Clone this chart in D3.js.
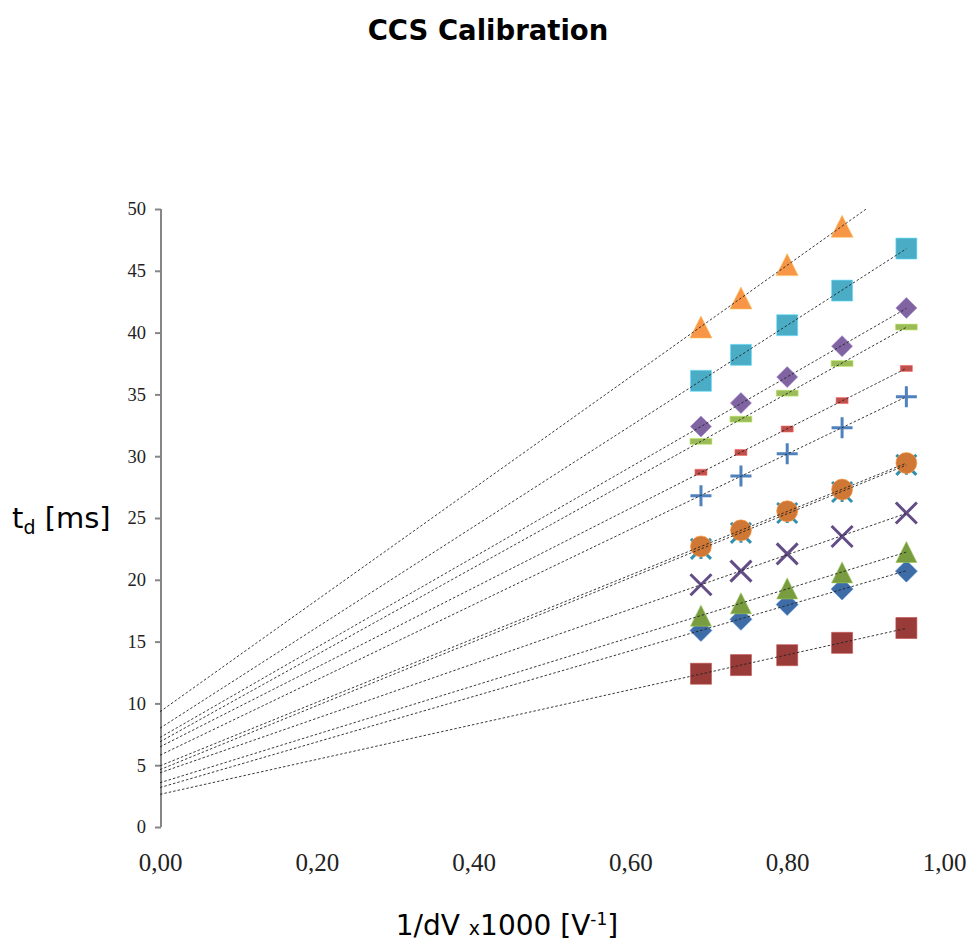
<!DOCTYPE html>
<html>
<head>
<meta charset="utf-8">
<script src="https://cdn.jsdelivr.net/npm/d3@7"></script>
<style>
  html, body { margin: 0; padding: 0; background: #fff; }
  svg { display: block; }
</style>
</head>
<body>
<svg id="chart"></svg>
<script>
// x values (1/dV x1000) shared by every series
const xValues = [0.690, 0.741, 0.800, 0.870, 0.952];

// drift times per series (ms)
const blueDiamond = [15.9, 16.8, 18.0, 19.25, 20.7];
const redSquare = [12.4, 13.1, 13.9, 14.9, 16.1];
const greenTriangle = [17.1, 18.1, 19.3, 20.6, 22.25];
const purpleCross = [19.6, 20.7, 22.1, 23.5, 25.4];
const cyanStar = [22.5, 23.8, 25.4, 27.1, 29.3];
const orangeCircle = [22.7, 24.0, 25.55, 27.3, 29.45];
const bluePlus = [26.8, 28.4, 30.2, 32.3, 34.8];
const redDash = [28.7, 30.3, 32.2, 34.5, 37.1];
const greenDash = [31.2, 33.0, 35.1, 37.5, 40.45];
const purpleDiamond = [32.4, 34.3, 36.4, 38.9, 42.0];
const cyanSquare = [36.1, 38.2, 40.6, 43.4, 46.8];
const orangeTriangle = [40.45, 42.8, 45.5, 48.6, 52.3]; // last point is above the axis max

const yTicks = [0, 5, 10, 15, 20, 25, 30, 35, 40, 45, 50];
const xTicks = [0, 0.2, 0.4, 0.6, 0.8, 1.0];

const series = [
  { values: blueDiamond, shape: "diamond", color: "#3e6ca6", size: 22 },
  { values: redSquare, shape: "square", color: "#983b39", size: 21 },
  { values: greenTriangle, shape: "triangle", color: "#799c40", size: 21 },
  { values: purpleCross, shape: "x", color: "#634d86", size: 21 },
  { values: cyanStar, shape: "star", color: "#3190ae", size: 20 },
  { values: orangeCircle, shape: "circle", color: "#cf7734", size: 21 },
  { values: bluePlus, shape: "plus", color: "#4f81bd", size: 21 },
  { values: redDash, shape: "dash", color: "#c0504d", size: 12 },
  { values: greenDash, shape: "dash", color: "#9bbb59", size: 22 },
  { values: purpleDiamond, shape: "diamond", color: "#8064a2", size: 21 },
  { values: cyanSquare, shape: "square", color: "#4bacc6", size: 21 },
  { values: orangeTriangle, shape: "triangle", color: "#f79646", size: 22 },
];

const width = 971;
const height = 944;

const svg = d3.select("#chart").attr("width", width).attr("height", height);

const x = d3.scaleLinear().domain([0, 1]).range([160, 944]);
const y = d3.scaleLinear().domain([0, 50]).range([827, 209]);

const locale = d3.formatLocale({ decimal: ",", thousands: ".", grouping: [3], currency: ["", ""] });
const fmtX = locale.format(".2f");

// Clip to the plot area so points/lines above 50 are hidden
svg
  .append("defs")
  .append("clipPath")
  .attr("id", "plot-clip")
  .append("rect")
  .attr("x", x(0))
  .attr("y", y(50))
  .attr("width", x(1) - x(0))
  .attr("height", y(0) - y(50));

// Title
svg
  .append("text")
  .attr("x", 488)
  .attr("y", 40)
  .attr("text-anchor", "middle")
  .attr("font-family", "DejaVu Sans")
  .attr("font-weight", "bold")
  .attr("font-size", "27.5px")
  .text("CCS Calibration");

// Y axis
const yAxis = svg
  .append("g")
  .attr("transform", `translate(${x(0) + 1}, 0)`)
  .call(d3.axisLeft(y).tickValues(yTicks).tickSize(6).tickPadding(9).tickFormat(d3.format("d")));

yAxis.select(".domain").attr("stroke", "#868686").attr("stroke-width", 2).attr("d", `M0,${y(50)}V${y(0)}`);
yAxis.selectAll(".tick line").attr("stroke", "#868686").attr("stroke-width", 2);
yAxis
  .selectAll(".tick text")
  .attr("font-family", "Liberation Serif")
  .attr("font-size", "18.5px")
  .attr("fill", "#222");

// X axis (labels only, no line)
const xAxis = svg
  .append("g")
  .attr("transform", `translate(0, ${y(0)})`)
  .call(d3.axisBottom(x).tickValues(xTicks).tickSize(0).tickPadding(26).tickFormat(fmtX));

xAxis.select(".domain").remove();
xAxis
  .selectAll(".tick text")
  .attr("font-family", "Liberation Serif")
  .attr("font-size", "25px")
  .attr("fill", "#222");

// Axis titles
const yTitle = svg
  .append("text")
  .attr("x", 12)
  .attr("y", 528)
  .attr("font-family", "DejaVu Sans")
  .attr("font-size", "29px")
  .attr("fill", "#000");
yTitle.append("tspan").text("t");
yTitle.append("tspan").attr("font-size", "19px").attr("dy", 6).text("d");
yTitle.append("tspan").attr("dy", -6).text(" [ms]");

const xTitle = svg
  .append("text")
  .attr("x", 507)
  .attr("y", 935)
  .attr("text-anchor", "middle")
  .attr("font-family", "DejaVu Sans")
  .attr("font-size", "28px")
  .attr("fill", "#000");
xTitle.append("tspan").text("1/dV ");
xTitle.append("tspan").attr("font-size", "19px").text("x");
xTitle.append("tspan").text("1000 [V");
xTitle.append("tspan").attr("font-size", "17px").attr("dy", -10).text("-1");
xTitle.append("tspan").attr("dy", 10).text("]");

// Least squares fit used for the trendlines
function linearFit(xs, ys) {
  const mx = d3.mean(xs);
  const my = d3.mean(ys);
  const sxy = d3.sum(xs, (v, i) => (v - mx) * (ys[i] - my));
  const sxx = d3.sum(xs, (v) => (v - mx) * (v - mx));
  const slope = sxy / sxx;
  return { slope, intercept: my - slope * mx };
}

// Marker path for a shape of given size, centred on 0,0
function markerPath(shape, s) {
  const h = s / 2;
  switch (shape) {
    case "square":
      return `M${-h},${-h}H${h}V${h}H${-h}Z`;
    case "diamond":
      return `M0,${-h}L${h},0L0,${h}L${-h},0Z`;
    case "triangle":
      return `M0,${-h}L${h},${h}L${-h},${h}Z`;
    case "circle":
      return `M${-h},0A${h},${h} 0 1,0 ${h},0A${h},${h} 0 1,0 ${-h},0Z`;
    case "dash":
      return `M${-h},-3H${h}V3H${-h}Z`;
    case "plus":
      return `M${-h},0H${h}M0,${-h}V${h}`;
    case "x":
      return `M${-h},${-h}L${h},${h}M${h},${-h}L${-h},${h}`;
    case "star":
      return `M${-h},${-h}L${h},${h}M${h},${-h}L${-h},${h}M0,${-h}V${h}`;
  }
}

const plot = svg.append("g").attr("clip-path", "url(#plot-clip)");
const markersLayer = plot.append("g").attr("class", "markers");
const linesLayer = plot.append("g").attr("class", "trendlines");

series.forEach((s) => {
  const points = xValues.map((xv, i) => ({ x: xv, y: s.values[i] })).filter((p) => p.y <= 50);
  const stroked = s.shape === "plus" || s.shape === "x" || s.shape === "star";

  markersLayer
    .append("g")
    .selectAll("path")
    .data(points)
    .join("path")
    .attr("transform", (d) => `translate(${x(d.x)}, ${y(d.y)})`)
    .attr("d", markerPath(s.shape, s.size))
    .attr("fill", stroked ? "none" : s.color)
    .attr("stroke", stroked ? s.color : d3.color(s.color).brighter(0.7))
    .attr("stroke-width", stroked ? 3 : 1)
    .attr("stroke-opacity", stroked ? 1 : 0.6);

  // Trendline from x = 0 to the last x value
  const fit = linearFit(xValues, s.values);
  const x0 = 0;
  const x1 = d3.max(xValues);
  linesLayer
    .append("line")
    .attr("x1", x(x0))
    .attr("y1", y(fit.intercept + fit.slope * x0))
    .attr("x2", x(x1))
    .attr("y2", y(fit.intercept + fit.slope * x1))
    .attr("stroke", "#222")
    .attr("stroke-width", 0.9)
    .attr("stroke-dasharray", "2.5,2");
});
</script>
</body>
</html>
